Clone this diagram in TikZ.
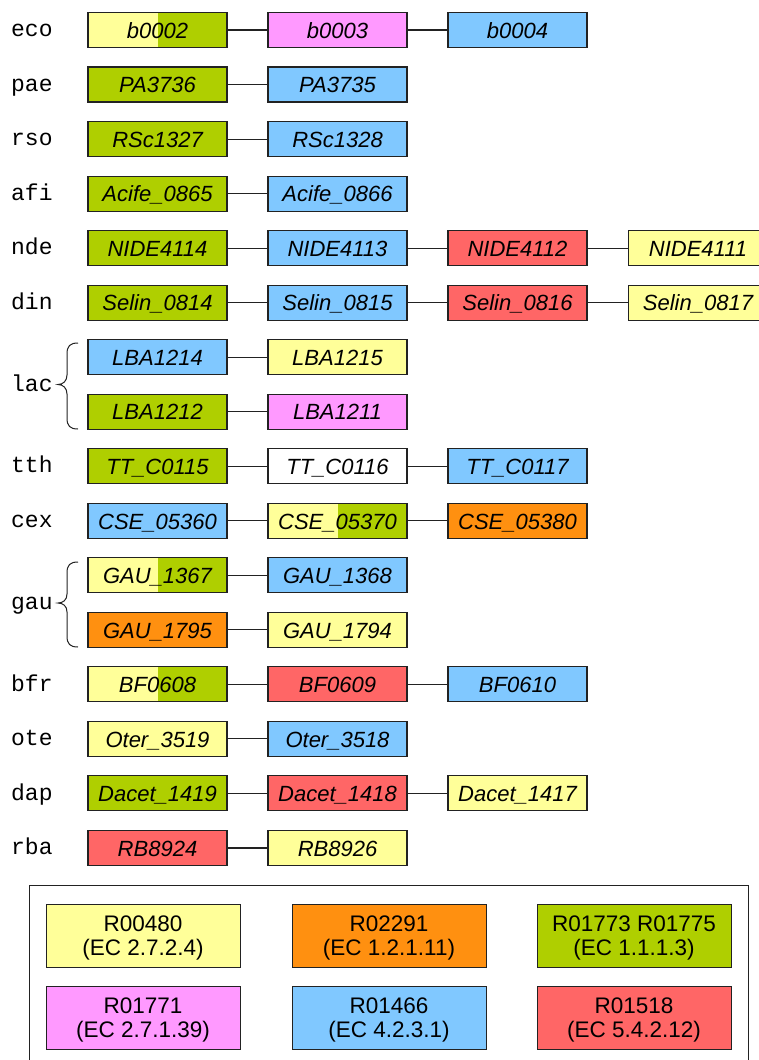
\documentclass[tikz,border=0pt]{standalone}
\usepackage{fontspec}
\setmainfont{Liberation Sans}
\setmonofont{Liberation Mono}
\definecolor{cy}{HTML}{FFFF99}
\definecolor{cg}{HTML}{AFCF00}
\definecolor{cp}{HTML}{FF99FF}
\definecolor{cb}{HTML}{80C8FF}
\definecolor{cr}{HTML}{FF6666}
\definecolor{co}{HTML}{FF9010}
\definecolor{ln}{HTML}{222222}
\tikzset{
  gene/.style={draw=ln, line width=1.1pt, minimum width=139pt, minimum height=35pt,
    inner sep=0pt, text height=16.4pt, text depth=0pt,
    font=\fontsize{22}{26}\selectfont\itshape},
  split/.style={fill=cy, path picture={\fill[cg] (path picture bounding box.north) rectangle (path picture bounding box.south east);}},
  sp/.style={anchor=base west, inner sep=0pt, font=\fontsize{23}{24}\selectfont\ttfamily},
  link/.style={draw=ln, line width=1.1pt},
  legbox/.style={draw=ln, line width=1pt, minimum width=194pt, minimum height=63pt,
    inner sep=0pt, align=center, text height=40.5pt, text depth=0pt,
    font=\fontsize{22.5}{24.3}\selectfont},
  brace/.style={draw=ln, line width=1pt}
}
\begin{document}
\begin{tikzpicture}[x=1pt,y=-1pt]
\clip (0,0) rectangle (759,1060);
\fill[white] (0,0) rectangle (759,1060);
% species labels
\node[sp] (leco) at (11,36.7) {eco};
\node[sp] (lpae) at (11,91.2) {pae};
\node[sp] (lrso) at (11,145.8) {rso};
\node[sp] (lafi) at (11,200.3) {afi};
\node[sp] (lnde) at (11,254.8) {nde};
\node[sp] (ldin) at (11,309.4) {din};
\node[sp] (llac) at (11,391.5) {lac};
\node[sp] (ltth) at (11,472.9) {tth};
\node[sp] (lcex) at (11,527.5) {cex};
\node[sp] (lgau) at (11,609.7) {gau};
\node[sp] (lbfr) at (11,691.1) {bfr};
\node[sp] (lote) at (11,745.6) {ote};
\node[sp] (ldap) at (11,800.1) {dap};
\node[sp] (lrba) at (11,854.7) {rba};
% braces
\draw[brace] (78,343) .. controls (70,343) and (67,346) .. (67,354) -- (67,375)
  .. controls (67,381) and (63,384.5) .. (58,384.5)
  .. controls (63,384.5) and (67,388) .. (67,394) -- (67,418)
  .. controls (67,426) and (70,429) .. (78,429);
\draw[brace] (78,562) .. controls (70,562) and (67,565) .. (67,573) -- (67,594)
  .. controls (67,600) and (63,603) .. (58,603)
  .. controls (63,603) and (67,606) .. (67,612) -- (67,636)
  .. controls (67,644) and (70,647) .. (78,647);
% eco
\node[gene,split] (a1) at (157.5,30) {b0002};
\node[gene,fill=cp] (a2) at (337.5,30) {b0003};
\node[gene,fill=cb] (a3) at (517.5,30) {b0004};
\draw[link] (a1) -- (a2); \draw[link] (a2) -- (a3);
% pae
\node[gene,fill=cg] (b1) at (157.5,84.5) {PA3736};
\node[gene,fill=cb] (b2) at (337.5,84.5) {PA3735};
\draw[link] (b1) -- (b2);
% rso
\node[gene,fill=cg] (c1) at (157.5,139.1) {RSc1327};
\node[gene,fill=cb] (c2) at (337.5,139.1) {RSc1328};
\draw[link] (c1) -- (c2);
% afi
\node[gene,fill=cg] (d1) at (157.5,193.6) {Acife\_0865};
\node[gene,fill=cb] (d2) at (337.5,193.6) {Acife\_0866};
\draw[link] (d1) -- (d2);
% nde
\node[gene,fill=cg] (e1) at (157.5,248.1) {NIDE4114};
\node[gene,fill=cb] (e2) at (337.5,248.1) {NIDE4113};
\node[gene,fill=cr] (e3) at (517.5,248.1) {NIDE4112};
\node[gene,fill=cy] (e4) at (698,248.1) {NIDE4111};
\draw[link] (e1) -- (e2); \draw[link] (e2) -- (e3); \draw[link] (e3) -- (e4);
% din
\node[gene,fill=cg] (f1) at (157.5,302.7) {Selin\_0814};
\node[gene,fill=cb] (f2) at (337.5,302.7) {Selin\_0815};
\node[gene,fill=cr] (f3) at (517.5,302.7) {Selin\_0816};
\node[gene,fill=cy] (f4) at (698,302.7) {Selin\_0817};
\draw[link] (f1) -- (f2); \draw[link] (f2) -- (f3); \draw[link] (f3) -- (f4);
% lac
\node[gene,fill=cb] (g1) at (157.5,357.2) {LBA1214};
\node[gene,fill=cy] (g2) at (337.5,357.2) {LBA1215};
\draw[link] (g1) -- (g2);
\node[gene,fill=cg] (h1) at (157.5,411.7) {LBA1212};
\node[gene,fill=cp] (h2) at (337.5,411.7) {LBA1211};
\draw[link] (h1) -- (h2);
% tth
\node[gene,fill=cg] (i1) at (157.5,466.2) {TT\_C0115};
\node[gene,fill=white] (i2) at (337.5,466.2) {TT\_C0116};
\node[gene,fill=cb] (i3) at (517.5,466.2) {TT\_C0117};
\draw[link] (i1) -- (i2); \draw[link] (i2) -- (i3);
% cex
\node[gene,fill=cb] (j1) at (157.5,520.8) {CSE\_05360};
\node[gene,split] (j2) at (337.5,520.8) {CSE\_05370};
\node[gene,fill=co] (j3) at (517.5,520.8) {CSE\_05380};
\draw[link] (j1) -- (j2); \draw[link] (j2) -- (j3);
% gau
\node[gene,split] (k1) at (157.5,575.3) {GAU\_1367};
\node[gene,fill=cb] (k2) at (337.5,575.3) {GAU\_1368};
\draw[link] (k1) -- (k2);
\node[gene,fill=co] (l1) at (157.5,629.8) {GAU\_1795};
\node[gene,fill=cy] (l2) at (337.5,629.8) {GAU\_1794};
\draw[link] (l1) -- (l2);
% bfr
\node[gene,split] (m1) at (157.5,684.4) {BF0608};
\node[gene,fill=cr] (m2) at (337.5,684.4) {BF0609};
\node[gene,fill=cb] (m3) at (517.5,684.4) {BF0610};
\draw[link] (m1) -- (m2); \draw[link] (m2) -- (m3);
% ote
\node[gene,fill=cy] (n1) at (157.5,738.9) {Oter\_3519};
\node[gene,fill=cb] (n2) at (337.5,738.9) {Oter\_3518};
\draw[link] (n1) -- (n2);
% dap
\node[gene,fill=cg] (o1) at (157.5,793.4) {Dacet\_1419};
\node[gene,fill=cr] (o2) at (337.5,793.4) {Dacet\_1418};
\node[gene,fill=cy] (o3) at (517.5,793.4) {Dacet\_1417};
\draw[link] (o1) -- (o2); \draw[link] (o2) -- (o3);
% rba
\node[gene,fill=cr] (p1) at (157.5,848) {RB8924};
\node[gene,fill=cy] (p2) at (337.5,848) {RB8926};
\draw[link] (p1) -- (p2);
% legend
\draw[draw=ln, line width=1pt] (29,885) rectangle (748,1075);
\node[legbox,fill=cy] (q1) at (143,935.5) {R00480\\(EC 2.7.2.4)};
\node[legbox,fill=co] (q2) at (389,935.5) {R02291\\(EC 1.2.1.11)};
\node[legbox,fill=cg] (q3) at (634,935.5) {R01773 R01775\\(EC 1.1.1.3)};
\node[legbox,fill=cp] (q4) at (143,1017.5) {R01771\\(EC 2.7.1.39)};
\node[legbox,fill=cb] (q5) at (389,1017.5) {R01466\\(EC 4.2.3.1)};
\node[legbox,fill=cr] (q6) at (634,1017.5) {R01518\\(EC 5.4.2.12)};
\end{tikzpicture}
\end{document}
